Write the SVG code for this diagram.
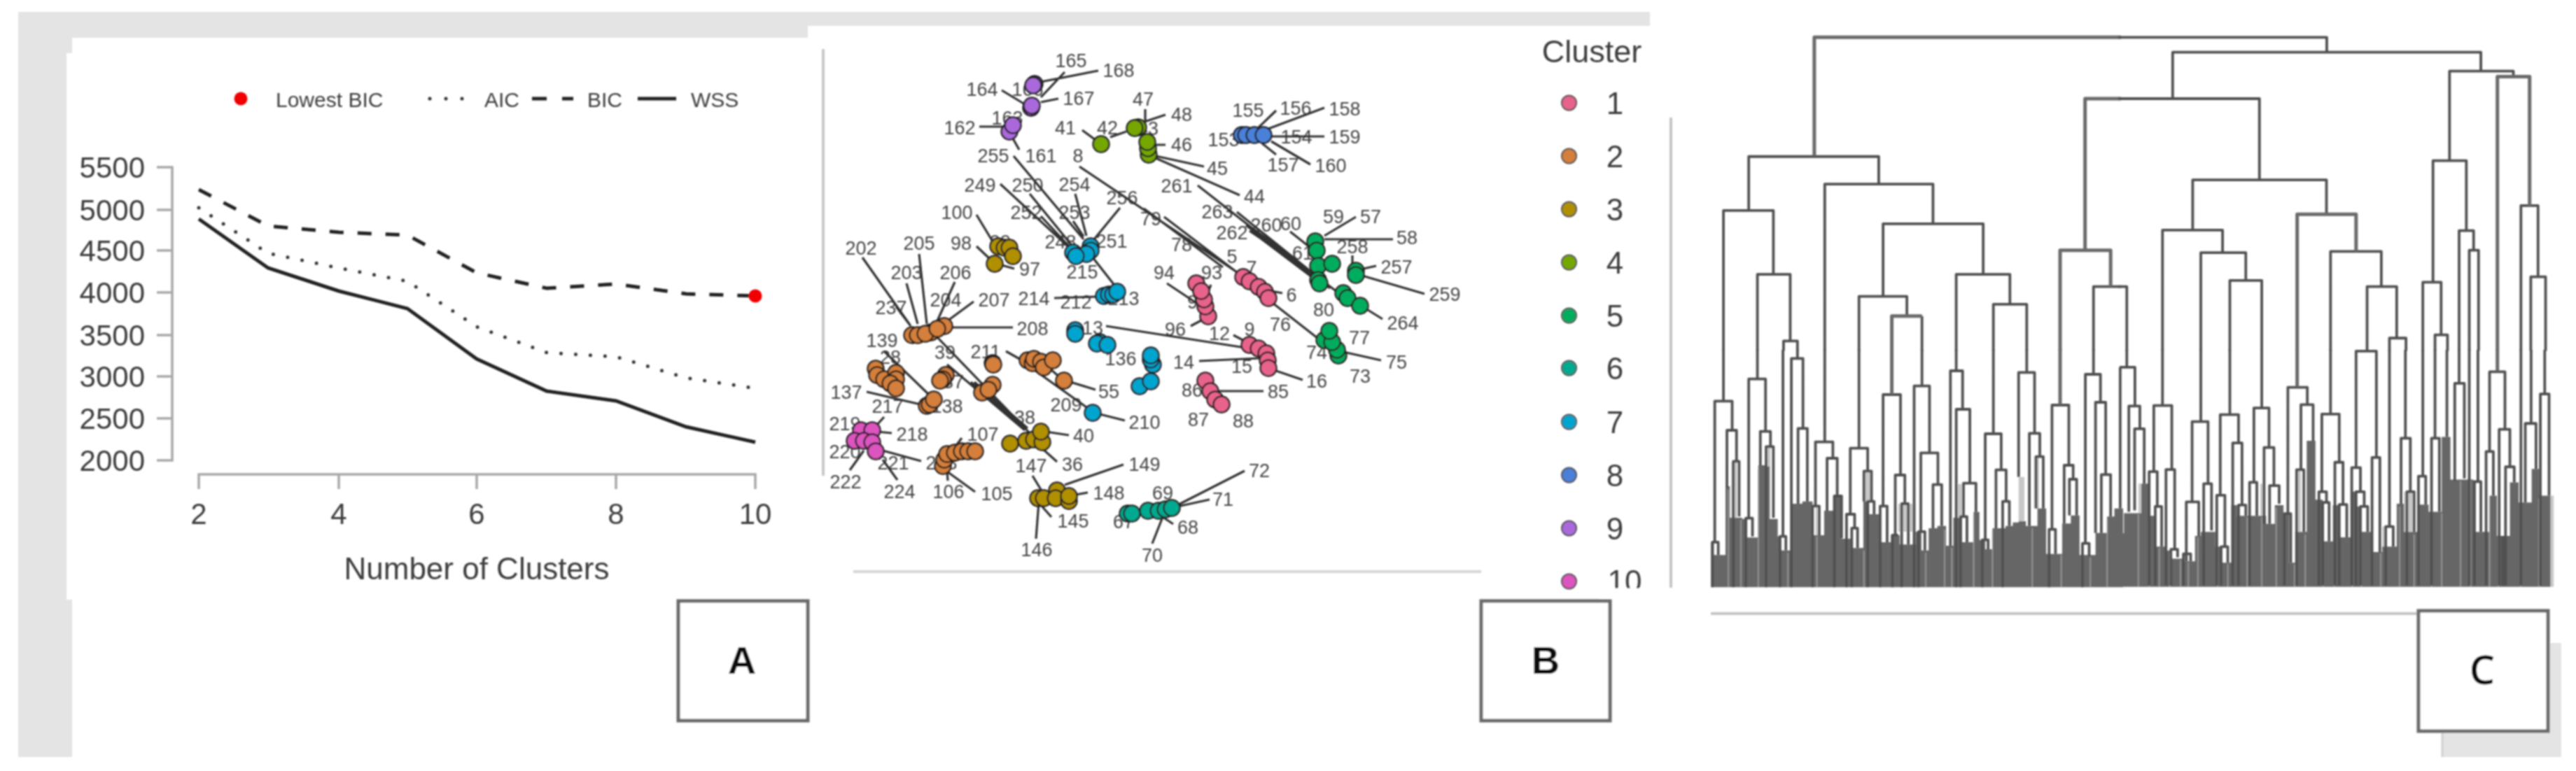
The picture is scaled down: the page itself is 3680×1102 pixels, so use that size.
<svg xmlns="http://www.w3.org/2000/svg" width="3680" height="1102" viewBox="0 0 3680 1102">
<defs>
<style>
text{font-family:"Liberation Sans",Arial,sans-serif;fill:#3c3c3c}
.n{font-size:27px;text-anchor:middle;fill:#444}
.yt{font-size:42px;text-anchor:end}
.xt{font-size:42px;text-anchor:middle}
.lg{font-size:30px}
.ax{stroke:#a8a8a8;stroke-width:3.5;fill:none}
.tag{fill:#fff;stroke:#6a6a6a;stroke-width:5}
.tl{font-size:56px;font-weight:bold;text-anchor:middle;fill:#111}
.ln path,.ln line{stroke:#333;stroke-width:3.2;fill:none}
.p1{fill:#e8648c}.p2{fill:#d47f3a}.p3{fill:#b09000}.p4{fill:#76a700}.p5{fill:#00ad5e}.p6{fill:#00aa90}.p7{fill:#00a5cf}.p8{fill:#4c80d8}.p9{fill:#aa69db}.p10{fill:#dc55bf}
.pts circle{r:11.5px;stroke:#222;stroke-width:2.4}
.lgd circle{r:10.5px;stroke:#555;stroke-width:2}
.lgn{font-size:44px;text-anchor:middle}
.b path{fill:none;stroke:#505050;stroke-width:3.8;vector-effect:non-scaling-stroke;stroke-linejoin:round}
.b .th{stroke:#6a6a6a;stroke-width:5}
.sil{fill:#666}
.lt{fill:#c8c8c8}
.sl{stroke:#a8a8a8;stroke-width:1.3;vector-effect:non-scaling-stroke;fill:none}
</style>
<filter id="soft" filterUnits="userSpaceOnUse" x="0" y="0" width="3680" height="1102"><feGaussianBlur stdDeviation="1.25"/></filter>
</defs>
<rect width="3680" height="1102" fill="#fff"/>
<g filter="url(#soft)">
<g id="background">
<path fill="#e4e4e4" d="M26 17H2357V37H1154V54H103V76H95V857H103V1082H26Z"/>
<rect x="3489" y="919" width="170" height="163" fill="#e4e4e4"/>
<path d="M3489 1045V1082" stroke="#cfcfcf" stroke-width="3"/>
</g>

<g id="panel-a">
<circle cx="344" cy="141" r="9.5" fill="#f00000"/>
<text class="lg" x="394" y="153">Lowest BIC</text>
<path d="M614 141H666" stroke="#333" stroke-width="5" stroke-linecap="round" stroke-dasharray="0 23" fill="none"/>
<text class="lg" x="692" y="153">AIC</text>
<path d="M760 141H781M803 141H819" stroke="#222" stroke-width="5" fill="none"/>
<text class="lg" x="839" y="153">BIC</text>
<path d="M911 141H966" stroke="#222" stroke-width="5" fill="none"/>
<text class="lg" x="987" y="153">WSS</text>
<path class="ax" d="M224 239H246V658H224M224 300H246M224 358H246M224 418H246M224 479H246M224 538H246M224 598H246"/>
<path class="ax" d="M284 699V678H1079V699M484 678V699M681 678V699M880 678V699"/>
<text class="yt" x="207" y="254">5500</text><text class="yt" x="207" y="315">5000</text><text class="yt" x="207" y="373">4500</text><text class="yt" x="207" y="433">4000</text><text class="yt" x="207" y="494">3500</text><text class="yt" x="207" y="553">3000</text><text class="yt" x="207" y="613">2500</text><text class="yt" x="207" y="673">2000</text>
<text class="xt" x="284" y="749">2</text><text class="xt" x="484" y="749">4</text><text class="xt" x="681" y="749">6</text><text class="xt" x="880" y="749">8</text><text class="xt" x="1079" y="749">10</text>
<text x="681" y="828" font-size="44" text-anchor="middle">Number of Clusters</text>
<path d="M284 271 383 323 484 332 582 336 681 390 781 412 880 406 980 420 1079 423" fill="none" stroke="#222" stroke-width="5" stroke-dasharray="20 20"/>
<path d="M284 297 383 362 484 383 582 402 681 467 781 504 880 510 980 540 1072 554" fill="none" stroke="#333" stroke-width="5" stroke-linecap="round" stroke-dasharray="0 21"/>
<path d="M284 313 383 383 484 416 582 441 681 513 781 559 880 573 980 610 1079 632" fill="none" stroke="#222" stroke-width="5"/>
<circle cx="1079" cy="423" r="9.5" fill="#f00000"/>
<rect class="tag" x="969" y="859" width="185" height="171"/>
<text class="tl" x="1060" y="963">A</text>
</g>

<g id="panel-b">
<path d="M1176 70V680" stroke="#c8c8c8" stroke-width="4" fill="none"/>
<path d="M1219 817H2116" stroke="#d5d5d5" stroke-width="4" fill="none"/>
<g id="point-labels">
<text class="n" x="1530" y="96">165</text><text class="n" x="1598" y="110">168</text><text class="n" x="1403" y="137">164</text><text class="n" x="1468" y="137">166</text><text class="n" x="1439" y="178">163</text><text class="n" x="1541" y="150">167</text><text class="n" x="1633" y="151">47</text><text class="n" x="1688" y="173">48</text><text class="n" x="1371" y="192">162</text><text class="n" x="1522" y="192">41</text><text class="n" x="1582" y="192">42</text><text class="n" x="1640" y="193">43</text><text class="n" x="1688" y="216">46</text><text class="n" x="1419" y="232">255</text><text class="n" x="1487" y="232">161</text><text class="n" x="1540" y="232">8</text><text class="n" x="1739" y="250">45</text><text class="n" x="1400" y="274">249</text><text class="n" x="1468" y="274">250</text><text class="n" x="1535" y="273">254</text><text class="n" x="1681" y="275">261</text><text class="n" x="1792" y="290">44</text><text class="n" x="1603" y="292">256</text><text class="n" x="1367" y="313">100</text><text class="n" x="1466" y="313">252</text><text class="n" x="1535" y="313">253</text><text class="n" x="1739" y="312">263</text><text class="n" x="1644" y="322">79</text><text class="n" x="1760" y="342">262</text><text class="n" x="1809" y="331">260</text><text class="n" x="1844" y="329">60</text><text class="n" x="1905" y="319">59</text><text class="n" x="1958" y="319">57</text><text class="n" x="2010" y="349">58</text><text class="n" x="1932" y="362">258</text><text class="n" x="1995" y="391">257</text><text class="n" x="2064" y="430">259</text><text class="n" x="2004" y="471">264</text><text class="n" x="1891" y="452">80</text><text class="n" x="1688" y="359">78</text><text class="n" x="1861" y="371">61</text><text class="n" x="1373" y="357">98</text><text class="n" x="1429" y="355">99</text><text class="n" x="1471" y="394">97</text><text class="n" x="1313" y="357">205</text><text class="n" x="1230" y="364">202</text><text class="n" x="1515" y="355">248</text><text class="n" x="1588" y="354">251</text><text class="n" x="1295" y="399">203</text><text class="n" x="1365" y="399">206</text><text class="n" x="1546" y="398">215</text><text class="n" x="1663" y="399">94</text><text class="n" x="1731" y="399">93</text><text class="n" x="1760" y="376">5</text><text class="n" x="1788" y="392">7</text><text class="n" x="1845" y="431">6</text><text class="n" x="1477" y="436">214</text><text class="n" x="1537" y="441">212</text><text class="n" x="1605" y="436">213</text><text class="n" x="1420" y="438">207</text><text class="n" x="1351" y="438">204</text><text class="n" x="1273" y="449">237</text><text class="n" x="1475" y="479">208</text><text class="n" x="1679" y="480">96</text><text class="n" x="1711" y="441">95</text><text class="n" x="1561" y="478">13</text><text class="n" x="1260" y="496">139</text><text class="n" x="1829" y="473">76</text><text class="n" x="1742" y="486">12</text><text class="n" x="1785" y="480">9</text><text class="n" x="1942" y="492">77</text><text class="n" x="1881" y="513">74</text><text class="n" x="1995" y="527">75</text><text class="n" x="1943" y="547">73</text><text class="n" x="1774" y="533">15</text><text class="n" x="1691" y="527">14</text><text class="n" x="1881" y="554">16</text><text class="n" x="1826" y="569">85</text><text class="n" x="1350" y="513">39</text><text class="n" x="1408" y="512">211</text><text class="n" x="1601" y="522">136</text><text class="n" x="1272" y="520">28</text><text class="n" x="1209" y="570">137</text><text class="n" x="1362" y="555">37</text><text class="n" x="1353" y="590">138</text><text class="n" x="1584" y="569">55</text><text class="n" x="1523" y="588">209</text><text class="n" x="1635" y="613">210</text><text class="n" x="1703" y="567">86</text><text class="n" x="1712" y="609">87</text><text class="n" x="1776" y="611">88</text><text class="n" x="1268" y="590">217</text><text class="n" x="1207" y="615">219</text><text class="n" x="1303" y="630">218</text><text class="n" x="1404" y="630">107</text><text class="n" x="1464" y="606">38</text><text class="n" x="1548" y="632">40</text><text class="n" x="1207" y="655">220</text><text class="n" x="1276" y="671">221</text><text class="n" x="1345" y="671">223</text><text class="n" x="1532" y="673">36</text><text class="n" x="1473" y="675">147</text><text class="n" x="1635" y="673">149</text><text class="n" x="1208" y="698">222</text><text class="n" x="1285" y="712">224</text><text class="n" x="1355" y="712">106</text><text class="n" x="1424" y="715">105</text><text class="n" x="1584" y="714">148</text><text class="n" x="1533" y="754">145</text><text class="n" x="1661" y="714">69</text><text class="n" x="1799" y="682">72</text><text class="n" x="1747" y="723">71</text><text class="n" x="1697" y="763">68</text><text class="n" x="1605" y="755">67</text><text class="n" x="1481" y="795">146</text><text class="n" x="1646" y="803">70</text><text class="n" x="1783" y="167">155</text><text class="n" x="1851" y="164">156</text><text class="n" x="1921" y="165">158</text><text class="n" x="1748" y="209">153</text><text class="n" x="1852" y="205">154</text><text class="n" x="1921" y="205">159</text><text class="n" x="1833" y="245">157</text><text class="n" x="1901" y="246">160</text>
</g>
<g id="leader-lines" class="ln"><path d="M1431 129 1464 149M1569 101 1487 117M1521 103 1487 139M1512 141 1487 146M1399 181H1435M1456 214 1447 198M1546 186 1565 200M1586 196 1609 188M1636 156V175M1665 164 1632 175M1665 207H1647M1651 223 1720 238M1651 226 1771 279M1448 223 1548 342M1429 263 1533 359M1471 277 1537 358M1487 309 1529 354M1536 277 1552 337M1533 316 1548 338M1600 297 1563 342M1542 238 1776 395M1663 310 1776 396M1634 298 1747 382M1711 265 1887 403M1767 303 1896 407M1785 330 1883 396M1789 326 1910 417M1780 322 1900 412M1792 334 1890 408M1843 331 1872 354M1892 337 1937 310M1892 342H1990M1932 365V380M1966 380 1948 384M2035 420 1946 394M1975 456 1946 438M1832 419 1816 416M1818 433 1887 487M1973 515 1919 503M1762 479 1785 491M1580 466 1798 500M1713 516 1800 512M1861 543 1820 529M1805 559H1740M1728 714 1682 724M1778 673 1682 722M1676 749 1661 739M1646 777 1661 739M1605 664 1521 693M1554 704 1537 707M1502 739 1487 722M1480 770 1484 718M1475 680 1489 703M1510 660 1491 643M1527 622 1494 617M1337 480 1471 619M1353 521 1464 615M1387 546 1464 611M1392 546 1468 612M1437 502 1460 515M1475 527 1552 582M1607 601 1571 592M1565 557 1529 546M1491 519 1517 542M1238 560 1315 578M1263 502 1328 565M1263 596 1253 607M1274 619 1253 617M1316 659 1261 644M1214 672 1234 644M1282 686 1261 657M1393 703 1353 674M1354 687 1353 674M1374 626 1362 642M1395 307 1418 345M1395 352 1414 370M1449 384 1431 379M1232 368 1299 463M1313 363 1324 463M1295 405 1311 463M1364 403 1337 463M1391 431 1353 459M1280 438 1301 466M1447 468H1360M1506 426 1567 424M1561 368 1594 410M1667 405 1709 433M1701 466 1716 458M1730 407 1724 421M1823 158 1796 184M1892 154 1812 184M1892 195H1812M1872 235 1816 202M1823 221 1803 205"/></g>
<g id="points" class="pts">
<g class="p9"><circle cx="1478" cy="120"/><circle cx="1476" cy="122"/><circle cx="1473" cy="154"/><circle cx="1474" cy="151"/><circle cx="1442" cy="188"/><circle cx="1447" cy="179"/></g>
<g class="p4"><circle cx="1626" cy="182"/><circle cx="1621" cy="183"/><circle cx="1573" cy="206"/><circle cx="1641" cy="221"/><circle cx="1640" cy="212"/><circle cx="1639" cy="203"/></g>
<g class="p3"><circle cx="1426" cy="352"/><circle cx="1435" cy="354"/><circle cx="1442" cy="354"/><circle cx="1447" cy="366"/><circle cx="1421" cy="377"/><circle cx="1443" cy="634"/><circle cx="1466" cy="630"/><circle cx="1477" cy="628"/><circle cx="1489" cy="632"/><circle cx="1487" cy="617"/><circle cx="1483" cy="712"/><circle cx="1491" cy="712"/><circle cx="1510" cy="701"/><circle cx="1508" cy="712"/><circle cx="1527" cy="716"/><circle cx="1527" cy="709"/></g>
<g class="p7"><circle cx="1533" cy="361"/><circle cx="1558" cy="352"/><circle cx="1558" cy="358"/><circle cx="1552" cy="363"/><circle cx="1537" cy="366"/><circle cx="1577" cy="423"/><circle cx="1584" cy="421"/><circle cx="1590" cy="421"/><circle cx="1596" cy="417"/><circle cx="1536" cy="472"/><circle cx="1536" cy="477"/><circle cx="1571" cy="489"/><circle cx="1567" cy="491"/><circle cx="1582" cy="493"/><circle cx="1647" cy="521"/><circle cx="1644" cy="514"/><circle cx="1644" cy="508"/><circle cx="1628" cy="552"/><circle cx="1644" cy="545"/><circle cx="1561" cy="590"/></g>
<g class="p2"><circle cx="1303" cy="479"/><circle cx="1311" cy="479"/><circle cx="1330" cy="475"/><circle cx="1322" cy="477"/><circle cx="1349" cy="466"/><circle cx="1339" cy="470"/><circle cx="1251" cy="527"/><circle cx="1253" cy="536"/><circle cx="1263" cy="542"/><circle cx="1280" cy="533"/><circle cx="1280" cy="542"/><circle cx="1272" cy="548"/><circle cx="1280" cy="555"/><circle cx="1351" cy="536"/><circle cx="1347" cy="542"/><circle cx="1343" cy="544"/><circle cx="1324" cy="580"/><circle cx="1328" cy="578"/><circle cx="1334" cy="571"/><circle cx="1418" cy="519"/><circle cx="1419" cy="521"/><circle cx="1468" cy="515"/><circle cx="1475" cy="519"/><circle cx="1477" cy="513"/><circle cx="1487" cy="517"/><circle cx="1491" cy="525"/><circle cx="1504" cy="515"/><circle cx="1520" cy="544"/><circle cx="1403" cy="561"/><circle cx="1418" cy="550"/><circle cx="1412" cy="557"/><circle cx="1347" cy="666"/><circle cx="1349" cy="657"/><circle cx="1353" cy="649"/><circle cx="1364" cy="647"/><circle cx="1374" cy="645"/><circle cx="1383" cy="645"/><circle cx="1393" cy="645"/></g>
<g class="p10"><circle cx="1230" cy="615"/><circle cx="1246" cy="615"/><circle cx="1221" cy="630"/><circle cx="1234" cy="630"/><circle cx="1246" cy="632"/><circle cx="1251" cy="645"/></g>
<g class="p6"><circle cx="1611" cy="734"/><circle cx="1617" cy="734"/><circle cx="1640" cy="730"/><circle cx="1655" cy="730"/><circle cx="1665" cy="728"/><circle cx="1674" cy="726"/></g>
<g class="p1"><circle cx="1726" cy="452"/><circle cx="1722" cy="438"/><circle cx="1720" cy="428"/><circle cx="1709" cy="405"/><circle cx="1716" cy="416"/><circle cx="1776" cy="396"/><circle cx="1785" cy="402"/><circle cx="1798" cy="410"/><circle cx="1807" cy="417"/><circle cx="1812" cy="426"/><circle cx="1785" cy="493"/><circle cx="1798" cy="498"/><circle cx="1809" cy="505"/><circle cx="1811" cy="515"/><circle cx="1812" cy="526"/><circle cx="1722" cy="544"/><circle cx="1729" cy="559"/><circle cx="1736" cy="571"/><circle cx="1745" cy="578"/></g>
<g class="p5"><circle cx="1879" cy="345"/><circle cx="1881" cy="358"/><circle cx="1883" cy="380"/><circle cx="1903" cy="377"/><circle cx="1883" cy="400"/><circle cx="1885" cy="405"/><circle cx="1919" cy="419"/><circle cx="1925" cy="426"/><circle cx="1943" cy="437"/><circle cx="1937" cy="387"/><circle cx="1937" cy="393"/><circle cx="1912" cy="508"/><circle cx="1910" cy="500"/><circle cx="1892" cy="486"/><circle cx="1903" cy="489"/><circle cx="1899" cy="473"/></g>
<g class="p8"><circle cx="1774" cy="193"/><circle cx="1780" cy="193"/><circle cx="1792" cy="193"/><circle cx="1805" cy="193"/></g>
</g>
<g id="cluster-legend" class="lgd">
<text x="2274" y="89" font-size="45" text-anchor="middle">Cluster</text>
<circle class="p1" cx="2241.5" cy="147"/><circle class="p2" cx="2241.5" cy="223"/><circle class="p3" cx="2241.5" cy="299"/><circle class="p4" cx="2241.5" cy="375"/><circle class="p5" cx="2241.5" cy="451"/><circle class="p6" cx="2241.5" cy="526"/><circle class="p7" cx="2241.5" cy="603"/><circle class="p8" cx="2241.5" cy="679"/><circle class="p9" cx="2241.5" cy="755"/><circle class="p10" cx="2241.5" cy="831"/>
<text class="lgn" x="2307" y="163">1</text><text class="lgn" x="2307" y="239">2</text><text class="lgn" x="2307" y="315">3</text><text class="lgn" x="2307" y="391">4</text><text class="lgn" x="2307" y="467">5</text><text class="lgn" x="2307" y="542">6</text><text class="lgn" x="2307" y="619">7</text><text class="lgn" x="2307" y="695">8</text><text class="lgn" x="2307" y="771">9</text><text class="lgn" x="2321" y="846">10</text>
<rect x="2285" y="841" width="75" height="14" fill="#fff"/>
</g>
<rect class="tag" x="2116" y="859" width="184" height="171"/>
<text class="tl" x="2208" y="963">B</text>
</g>

<g id="panel-c">
<path d="M2387 168V840" stroke="#c4c4c4" stroke-width="4" fill="none"/>
<path d="M2444 877H3460" stroke="#c4c4c4" stroke-width="4" fill="none"/>
<g id="dendro-lower-left" transform="translate(2380 500) scale(.4146 .3333)">
<path class="lt" d="M225 480H245V720H225ZM345 415H360V720H345ZM685 520H705V650H685ZM1005 575H1020V720H1005ZM1268 455H1285V680H1268ZM515 670H530V795H515ZM580 630H590V700H580ZM800 660H860V780H800ZM1215 545H1235V735H1215Z"/>
<path class="sil" id="sil8" d="M155 1018V825H165V880H205V585H220V720H262V725H280V805H318V495H345V500H357V725H385V800H395V860H432V660H470V650H505V795H545V690H580V630H605V810H640V850H680V650H700V705H735V825H775V795H805V835H860V780H880V860H905V765H935V755H965V840H990V720H1020V825H1060V695H1080V815H1100V855H1125V765H1170V755H1195V740H1215V735H1240V755H1280V680H1310V875H1365V745H1395V710H1425V880H1480V785H1520V715H1545V680H1575V1018Z"/>
<path class="sl" d="M160 1018V880M215 1018V600M258 1018V730M318 1018V510M420 1018V870M520 1018V800M620 1018V820M682 1018V860M738 1018V830M780 1018V800M855 1018V840M895 1018V870M960 1018V770M985 1018V850M1060 1018V710M1090 1018V825M1125 1018V775M1262 1018V765M1322 1018V880M1362 1018V880M1435 1018V890M1462 1018V890M1520 1018V725"/>
<g class="b">
<path d="M198 0V218M168 825V220H228V345M160 1018V825H180V880M210 590V345H243V478M232 1018V478H252V715M315 0V125M285 720V125H343V348M275 1018V722H298V800M325 495V350H360V415M345 1018V415H370V720M403 0V800M393 1018V800H413V860M453 0V35M432 1018V37H472V335M455 660V337H487V650M547 0V392M515 670V395H575V463M505 1018V670H528V795M555 690V465H590V625M580 1018V627H605V808M665 0V420M635 705V422H695V518M622 1018V705H650V765M640 1018V765H660V850M682 650V520H708V650M695 1018V650H717V705M748 668V192H808V535M738 1018V670H762V825M790 795V537H823V660M780 1018V795H800M812 1018V660H835V835M882 0V152M855 1018V155H908V440M878 780V442H937V578M870 1018V780H892V860M920 765V578H950V755M1000 0V88M980 840V90H1022V255M1000 1018V255H1047V570M1025 715V572H1068V695M1015 1018V715H1037V825M1128 0V358M1100 815V360H1155V515M1090 1018V815H1110V855M1137 765V515H1172V650M1160 1018V650H1183V755M1243 0V95M1215 545V97H1270V358M1252 755V358H1288V458M1275 680V458H1300V680M1330 770V237H1388V495M1320 1018V770H1342V875M1372 745V495H1403V555M1390 710V555H1415V710M1473 0V105M1445 830V105H1497V225M1435 1018V830H1458V885M1480 785V225H1515V535M1500 785V535H1532V715M1565 75V680"/>
<path class="th" d="M778 0V190M1358 0V235"/>
</g>
</g>
<g id="dendro-lower-right" transform="translate(3030 500) scale(.4146 .3827)">
<path class="lt" d="M60 500H70V610H60ZM975 530H1005V680H975ZM1480 545H1491V885H1480ZM600 450H620V680H600ZM1110 330H1135V880H1110ZM900 660H915V735H900ZM480 500H495V620H480Z"/>
<path class="sil" d="M-5 885V685H10V610H70V500H95V620H118V735H155V750H172V780H215V790H255V695H275V680H325V735H345V795H380V580H400V620H500V650H530V580H560V610H580V795H600V680H640V340H670V560H695V715H730V580H755V700H795V530H810V585H825V680H865V755H900V735H950V575H975V680H1022V578H1060V605H1105V325H1135V485H1215V680H1270V545H1295V695H1340V495H1370V570H1415V445H1440V545H1480V885Z"/>
<path class="sl" d="M60 885V615M97 885V625M132 885V740M168 885V755M205 885V785M232 885V795M265 885V700M333 885V740M368 885V800M435 885V625M485 885V625M535 885V590M598 885V800M635 885V690M697 885V720M735 885V590M797 885V540M828 885V690M895 885V760M960 885V585M1010 885V690M1070 885V615M1105 885V610M1170 885V490M1205 885V490M1270 885V555M1300 885V700M1378 885V575M1440 885V555"/>
<g class="b">
<path d="M20 0V65M-5 65H48V210M27 605V210H65V295M47 600V295H80V500M143 0V205M113 455V208H175V445M97 880V455H125V585M118 880V585H140V735M155 880V447H185V740M172 880V745H195V775M275 0V265M245 565V268H300V500M225 790V568H268V695M215 880V762H240V790M285 880V500H312V675M375 0V240M342 540V242H405V345M330 880V543H358V735M345 880V735H368V795M385 880V348H417V580M405 880V580H430V620M485 0V215M458 490V217H510V365M443 880V495H468V620M493 650V365H527V505M512 650V507H545V575M575 610V140H642V205M563 880V612H585V795M620 445V205H662V340M605 880V448H630V680M722 0V240M692 530V240H752V420M682 880V530H708V570M695 880V570H717V715M737 880V420H765V578M752 880V578H778V700M810 440V5H880V400M795 880V440H825V530M810 880V530H838V585M825 880V585H850V680M865 880V402H892V755M925 0V660M912 880V660H938V735M980 0V330M965 575V330H997V528M985 880V530H1010V680M1040 0V470M1025 880V472H1050V578M1082 0V328M1070 880V330H1097V605M1123 0V325M1165 0V125M1150 490V125H1183V480M1200 880V0M1230 0V490M1218 880V492H1240V680M1270 380V82H1323V295M1258 880V380H1283V545M1303 880V297H1340V435M1325 880V437H1355V495M1315 880V695M1378 0V880M1413 0V275M1393 570V275H1430V445M1460 0V165M1445 880V165H1475V545"/>
<path class="th" d="M607 0V138M1297 0V80"/>
</g>
</g>
<g id="dendro-upper-left" class="b" transform="translate(2380 0) scale(.4146 .3507)">
<path d="M285 858V638H733V750M198 1430V858H370V1118M315 1430V1118H428V1390M405 1430V1390H453V1430M547 1430V750H920V910M748 1208V912H1093V1118M665 1430V1208H830V1288M882 1430V1288M1000 1430V1118H1185V1240M1128 1430V1240H1243V1430M1473 1430V1168H1568"/>
<path class="th" d="M511 635V152H1568M1444 1018V402H1568M1358 1430V1020H1532V1168M778 1430V1288H882"/>
</g>
<g id="dendro-upper-right" class="b" transform="translate(3030 0) scale(.4146 .3507)">
<path d="M-10 152H709V213M178 402V213H1240V288M-10 402H477V730M-10 1168H20V1430M247 938V733H708V870M143 1430V938H350V1030M275 1430V1030H430V1140M375 1430V1143H485V1430M722 1430V1025H897V1165M848 1430V1168H950V1375M925 1430V1378H982V1430M1132 655V290H1352V312M1075 1150V655H1190V940M1040 1430V1150H1103V1365M1082 1430V1365H1125V1430M1165 1430V940H1215V1020M1200 1430V1020H1232V1430M1378 1430V838H1437V1125M1412 1430V1128H1463V1430"/>
<path class="th" d="M607 1430V873H810V1025M1297 1430V312H1408V838"/>
</g>
<rect class="tag" x="3455" y="873" width="185" height="172"/>
<text x="3546" y="978" font-size="58" text-anchor="middle" style="font-family:'Open Sans',sans-serif;font-weight:600;fill:#111">C</text>
</g>
</g>
</svg>
